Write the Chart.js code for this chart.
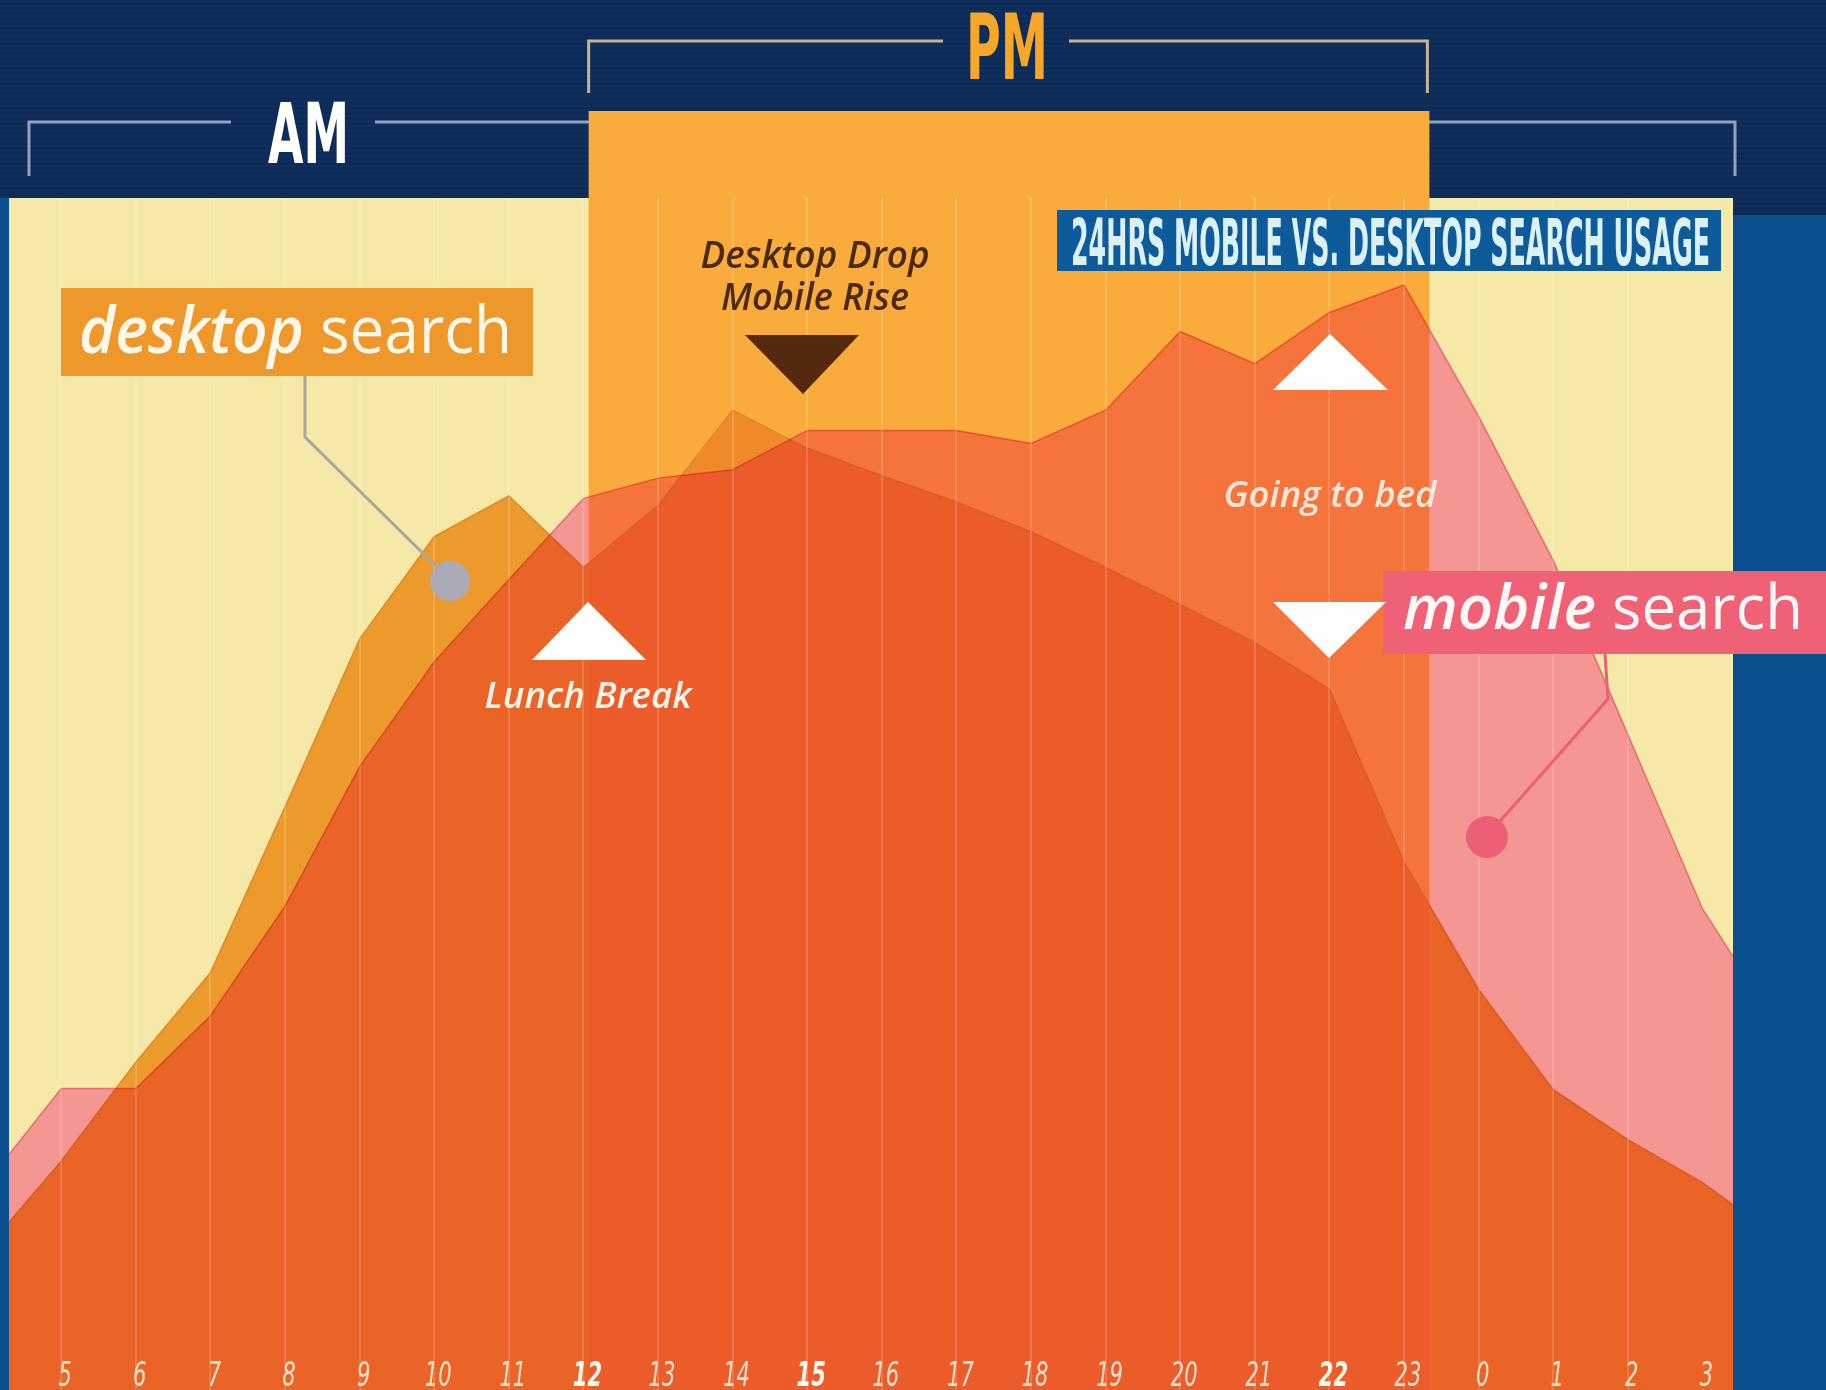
<!DOCTYPE html>
<html>
<head>
<meta charset="utf-8">
<script src="https://cdn.jsdelivr.net/npm/chart.js@4.4.1/dist/chart.umd.min.js"></script>
<style>
    body { margin: 0; background: #0c2b58; }
    #wrap { width: 1826px; height: 1390px; }
</style>
</head>
<body>
<div id="wrap"><canvas id="chart" width="1826" height="1390"></canvas></div>
<script>
// hour of day on a continuous axis: 24..28 are 0..4 of the next day
var hourPos = [4, 5, 6, 7, 8, 9, 10, 11, 12, 13, 14, 15, 16, 17, 18, 19, 20, 21, 22, 23, 24, 25, 26, 27, 28];
var tickLabels = ['5', '6', '7', '8', '9', '10', '11', '12', '13', '14', '15', '16', '17', '18', '19', '20', '21', '22', '23', '0', '1', '2', '3'];
var boldLabels = ['12', '15', '22'];

// relative search volume (0-100)
var desktopSearch = [11.9, 19.2, 27.5, 35.0, 48.9, 63.0, 71.6, 75.0, 69.0, 74.2, 82.2, 79.0, 76.7, 74.5, 72.0, 69.0, 65.9, 62.7, 58.8, 44.3, 33.6, 25.2, 21.0, 17.4, 12.9];
var mobileSearch = [17.4, 25.3, 25.3, 31.4, 40.6, 52.3, 61.1, 68.0, 74.8, 76.5, 77.2, 80.5, 80.5, 80.5, 79.4, 82.2, 88.8, 86.1, 90.4, 92.7, 81.7, 69.6, 55.0, 40.4, 30.6];

var pmStart = 12.07, pmEnd = 23.34;

function points(values) {
    var out = [];
    for (var i = 0; i < values.length; i++) out.push({x: hourPos[i], y: values[i]});
    return out;
}

// horizontal gradient with hard stops so the PM band gets its own tint
function bandGradient(chart, amColor, pmColor) {
    var area = chart.chartArea;
    if (!area) return amColor;
    var xs = chart.scales.x;
    var w = area.right - area.left;
    var a = (xs.getPixelForValue(pmStart) - area.left) / w;
    var b = (xs.getPixelForValue(pmEnd) - area.left) / w;
    var g = chart.ctx.createLinearGradient(area.left, 0, area.right, 0);
    g.addColorStop(0, amColor); g.addColorStop(a, amColor);
    g.addColorStop(a, pmColor); g.addColorStop(b, pmColor);
    g.addColorStop(b, amColor); g.addColorStop(1, amColor);
    return g;
}

function squeezeText(ctx, text, font, left, baseline, width, color) {
    ctx.save();
    ctx.font = font;
    var w = ctx.measureText(text).width;
    ctx.translate(left, baseline);
    ctx.scale(width / w, 1);
    ctx.fillStyle = color;
    ctx.textAlign = 'left';
    ctx.textBaseline = 'alphabetic';
    ctx.fillText(text, 0, 0);
    ctx.restore();
}

function richText(ctx, parts, left, baseline, width, color) {
    ctx.save();
    var total = 0;
    for (var i = 0; i < parts.length; i++) {
        ctx.font = parts[i][1];
        total += ctx.measureText(parts[i][0]).width;
    }
    ctx.translate(left, baseline);
    ctx.scale(width / total, 1);
    ctx.fillStyle = color;
    ctx.textBaseline = 'alphabetic';
    var x = 0;
    for (var j = 0; j < parts.length; j++) {
        ctx.font = parts[j][1];
        ctx.fillText(parts[j][0], x, 0);
        x += ctx.measureText(parts[j][0]).width;
    }
    ctx.restore();
}

function centerText(ctx, text, font, cx, baseline, width, color) {
    squeezeText(ctx, text, font, cx - width / 2, baseline, width, color);
}

function triangle(ctx, x1, y1, x2, y2, x3, y3, color) {
    ctx.beginPath();
    ctx.moveTo(x1, y1); ctx.lineTo(x2, y2); ctx.lineTo(x3, y3);
    ctx.closePath();
    ctx.fillStyle = color;
    ctx.fill();
}

var backdrop = {
    id: 'backdrop',
    beforeDraw: function(chart) {
        var ctx = chart.ctx, area = chart.chartArea, xs = chart.scales.x;
        ctx.save();
        ctx.fillStyle = '#0c2b58';
        ctx.fillRect(0, 0, chart.width, chart.height);
        ctx.fillStyle = 'rgba(255,255,255,0.025)';
        for (var y = 0; y < 215; y += 5) ctx.fillRect(0, y, chart.width, 2);
        // side strips
        ctx.fillStyle = '#0a4f8e';
        ctx.fillRect(area.right, 215, chart.width - area.right, chart.height - 215);
        ctx.fillRect(0, area.top, area.left, area.bottom - area.top);
        // plot background
        ctx.fillStyle = '#f6e8a6';
        ctx.fillRect(area.left, area.top, area.right - area.left, area.bottom - area.top);

        // AM bracket
        ctx.strokeStyle = '#8ea3c0';
        ctx.lineWidth = 3;
        ctx.beginPath();
        ctx.moveTo(29, 176); ctx.lineTo(29, 122); ctx.lineTo(231, 122);
        ctx.moveTo(375, 122); ctx.lineTo(1735, 122); ctx.lineTo(1735, 176);
        ctx.stroke();

        // PM band
        var a = xs.getPixelForValue(pmStart), b = xs.getPixelForValue(pmEnd);
        ctx.fillStyle = '#f9ac3b';
        ctx.fillRect(a, 111, b - a, area.bottom - 111);

        // PM bracket
        ctx.strokeStyle = '#c9b38c';
        ctx.beginPath();
        ctx.moveTo(a, 93); ctx.lineTo(a, 41); ctx.lineTo(943, 41);
        ctx.moveTo(1069, 41); ctx.lineTo(b - 2, 41); ctx.lineTo(b - 2, 93);
        ctx.stroke();

        squeezeText(ctx, 'AM', 'bold 84px "DejaVu Sans"', 268, 163, 81, '#ffffff');
        squeezeText(ctx, 'PM', 'bold 90px "DejaVu Sans"', 966, 79, 82, '#f6a72a');
        ctx.restore();
    }
};

// mobile area is laid over desktop with a multiply blend;
// the filler draws in beforeDatasetDraw, so switch the mode once desktop is done
var blend = {
    id: 'blend',
    afterDatasetDraw: function(chart, args) {
        var label = chart.data.datasets[args.index].label;
        chart.ctx.globalCompositeOperation = label === 'desktop search' ? 'multiply' : 'source-over';
    },
    afterDatasetsDraw: function(chart) {
        chart.ctx.globalCompositeOperation = 'source-over';
    }
};

var notes = {
    id: 'notes',
    afterDraw: function(chart) {
        var ctx = chart.ctx, area = chart.chartArea, xs = chart.scales.x;
        ctx.save();

        // hour labels
        for (var i = 0; i < tickLabels.length; i++) {
            var lab = tickLabels[i];
            var isBold = boldLabels.indexOf(lab) >= 0;
            var px = xs.getPixelForValue(5 + i);
            ctx.font = (isBold ? 'italic bold ' : 'italic ') + '34px "DejaVu Sans"';
            var w = ctx.measureText(lab).width * 0.62;
            squeezeText(ctx, lab, ctx.font, px - w / 2 + 4, 1386, w,
                isBold ? 'rgba(255,250,240,1)' : 'rgba(255,238,218,0.9)');
        }

        // title box
        ctx.fillStyle = '#0e5b9c';
        ctx.fillRect(1057, 210, 664, 61);
        squeezeText(ctx, '24HRS MOBILE VS. DESKTOP SEARCH USAGE', 'bold 64px "DejaVu Sans"', 1071, 265, 639, '#dcf1f3');

        // desktop label + connector
        ctx.strokeStyle = '#a9a7a0';
        ctx.lineWidth = 3;
        ctx.beginPath();
        ctx.moveTo(305, 376); ctx.lineTo(305, 437); ctx.lineTo(450, 580);
        ctx.stroke();
        ctx.fillStyle = 'rgba(168,170,190,0.95)';
        ctx.beginPath(); ctx.arc(450, 581, 20, 0, Math.PI * 2); ctx.fill();
        ctx.fillStyle = '#ee972a';
        ctx.fillRect(61, 288, 472, 88);
        richText(ctx, [['desktop', 'italic 600 66px "Open Sans"'], [' search', '400 66px "Open Sans"']], 79, 353, 433, '#fff8ea');

        // mobile label + connector
        ctx.strokeStyle = '#ec5f74';
        ctx.beginPath();
        ctx.moveTo(1605, 654); ctx.lineTo(1608, 699); ctx.lineTo(1487, 836);
        ctx.stroke();
        ctx.fillStyle = '#ec5f74';
        ctx.beginPath(); ctx.arc(1487, 837, 21, 0, Math.PI * 2); ctx.fill();
        ctx.fillStyle = '#ee6177';
        ctx.fillRect(1383, 571, 443, 83);
        richText(ctx, [['mobile', 'italic 600 62px "Open Sans"'], [' search', '400 62px "Open Sans"']], 1403, 629, 400, '#fff8f4');

        // Lunch break
        triangle(ctx, 588, 602, 532, 660, 646, 660, '#ffffff');
        centerText(ctx, 'Lunch Break', 'italic 600 36px "Open Sans"', 588, 708, 207, '#fff4ea');

        // Desktop drop / mobile rise
        centerText(ctx, 'Desktop Drop', 'italic 600 37px "Open Sans"', 815, 268, 229, '#4b2a12');
        centerText(ctx, 'Mobile Rise', 'italic 600 37px "Open Sans"', 815, 310, 188, '#4b2a12');
        triangle(ctx, 745, 335, 859, 335, 803, 394, '#55290e');

        // Going to bed
        triangle(ctx, 1330, 334, 1273, 390, 1388, 390, '#ffffff');
        centerText(ctx, 'Going to bed', 'italic 600 36px "Open Sans"', 1330, 507, 213, 'rgba(255,240,230,0.92)');
        triangle(ctx, 1273, 602, 1386, 602, 1329, 658, '#ffffff');

        ctx.restore();
    }
};

var ctx = document.getElementById('chart').getContext('2d');
var chart = new Chart(ctx, {
    type: 'line',
    data: {
        datasets: [{
            label: 'mobile search',
            data: points(mobileSearch),
            order: 0,
            fill: 'origin',
            clip: 0,
            tension: 0,
            pointRadius: 0,
            borderWidth: 1.5,
            borderColor: 'rgb(240,150,190)',
            backgroundColor: function(c) { return bandGradient(c.chart, 'rgb(253,165,223)', 'rgb(250,172,255)'); }
        }, {
            label: 'desktop search',
            data: points(desktopSearch),
            order: 1,
            fill: 'origin',
            clip: 0,
            tension: 0,
            pointRadius: 0,
            borderWidth: 1.5,
            borderColor: '#de8a2a',
            backgroundColor: function(c) { return bandGradient(c.chart, '#ec9a2b', '#f0892a'); }
        }]
    },
    options: {
        responsive: false,
        animation: false,
        devicePixelRatio: 1,
        layout: { padding: { left: 9, right: 93, top: 198, bottom: 0 } },
        plugins: { legend: { display: false }, tooltip: { enabled: false } },
        scales: {
            x: {
                type: 'linear',
                min: 4.3,
                max: 27.41,
                ticks: { display: false, stepSize: 1 },
                afterBuildTicks: function(scale) {
                    scale.ticks = scale.ticks.filter(function(t) { return Number.isInteger(t.value); });
                },
                grid: { color: 'rgba(255,255,255,0.16)', lineWidth: 2, drawTicks: false, z: 1 },
                border: { display: false }
            },
            y: { display: false, min: 0, max: 100 }
        }
    },
    plugins: [backdrop, blend, notes]
});
</script>
</body>
</html>
